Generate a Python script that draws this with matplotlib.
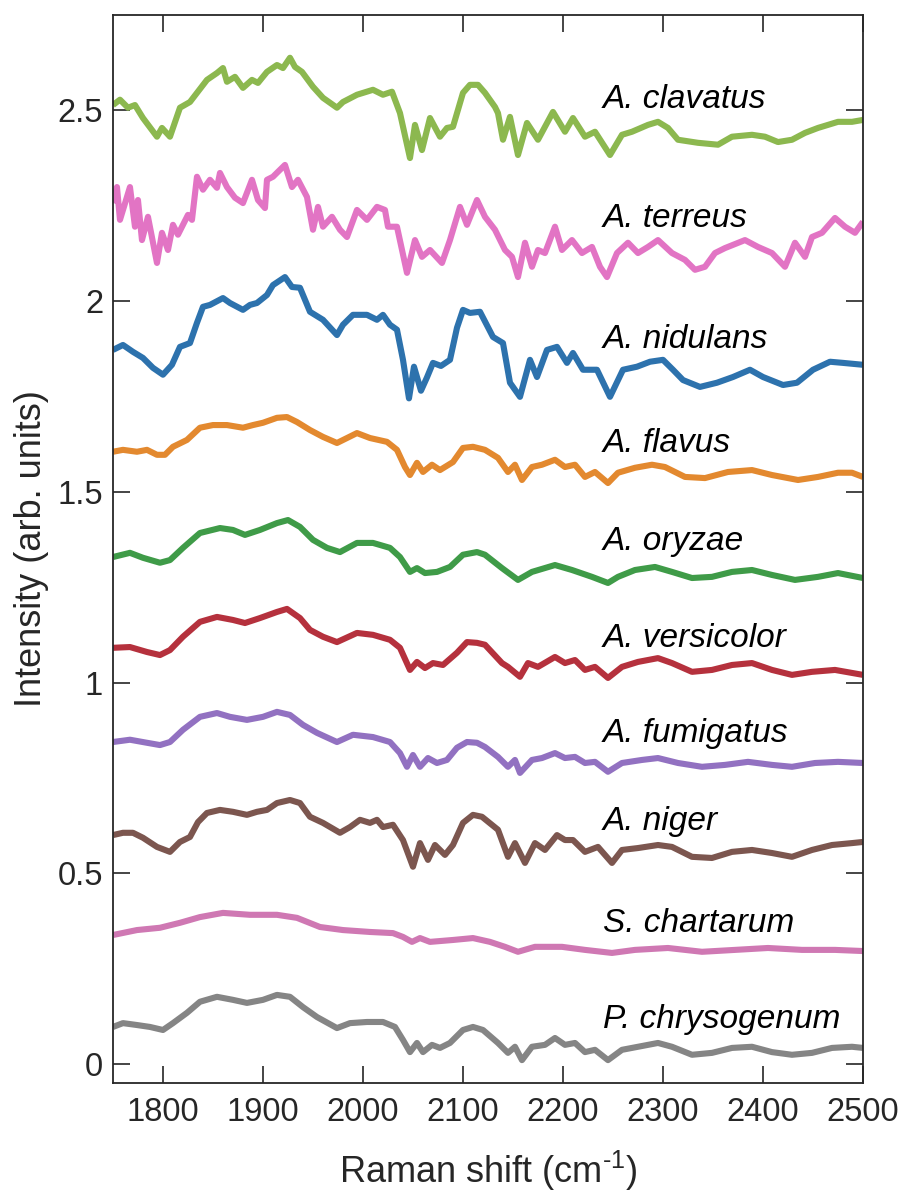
import numpy as np
import matplotlib
matplotlib.use("Agg")
import matplotlib.pyplot as plt
from matplotlib.ticker import FixedLocator, FixedFormatter

plt.rcParams['font.family'] = ['Liberation Sans', 'DejaVu Sans']
plt.rcParams['mathtext.fontset'] = 'custom'
plt.rcParams['mathtext.rm'] = 'Liberation Sans'
plt.rcParams['mathtext.default'] = 'regular'

# --- Offset Raman spectra (baseline-shifted), 1750-2500 cm^-1 ---
clavatus_x = [1750, 1757, 1765, 1772, 1780, 1794, 1799, 1807, 1817, 1827, 1844, 1854, 1860, 1864, 1872,
              1880, 1889, 1895, 1904, 1914, 1920, 1927, 1932, 1939, 1950, 1960, 1974, 1980, 1994, 2010,
              2020, 2029, 2037, 2047, 2052, 2059, 2067, 2077, 2084, 2090, 2100, 2107, 2115, 2122, 2132,
              2135, 2140, 2147, 2155, 2164, 2175, 2190, 2202, 2210, 2222, 2232, 2247, 2259, 2269, 2285,
              2295, 2305, 2315, 2335, 2355, 2369, 2389, 2402, 2415, 2429, 2442, 2455, 2475, 2489, 2500]
clavatus_y = [2.514, 2.528, 2.507, 2.514, 2.480, 2.431, 2.454, 2.431, 2.507, 2.522, 2.580, 2.598, 2.611, 2.575, 2.588,
              2.559, 2.580, 2.572, 2.601, 2.619, 2.611, 2.638, 2.614, 2.601, 2.562, 2.533, 2.507, 2.522, 2.541, 2.554,
              2.541, 2.549, 2.493, 2.375, 2.462, 2.396, 2.480, 2.431, 2.454, 2.457, 2.546, 2.567, 2.567, 2.546, 2.509,
              2.493, 2.423, 2.483, 2.383, 2.467, 2.423, 2.496, 2.444, 2.480, 2.431, 2.444, 2.383, 2.436, 2.444, 2.462,
              2.470, 2.454, 2.423, 2.415, 2.410, 2.431, 2.436, 2.431, 2.417, 2.423, 2.441, 2.454, 2.470, 2.470, 2.475]

terreus_x = [1750, 1754, 1757, 1767, 1772, 1775, 1779, 1785, 1794, 1799, 1805, 1810, 1815, 1825, 1829,
             1834, 1840, 1847, 1854, 1857, 1864, 1872, 1880, 1889, 1895, 1902, 1904, 1910, 1915, 1922,
             1929, 1935, 1944, 1950, 1955, 1960, 1969, 1977, 1984, 1994, 2004, 2014, 2022, 2025, 2034,
             2044, 2052, 2059, 2067, 2079, 2087, 2097, 2104, 2114, 2122, 2132, 2142, 2149, 2155, 2162,
             2169, 2175, 2182, 2192, 2199, 2209, 2219, 2229, 2237, 2244, 2254, 2265, 2275, 2285, 2295,
             2309, 2322, 2332, 2342, 2352, 2362, 2382, 2395, 2409, 2422, 2432, 2442, 2449, 2459, 2472,
             2482, 2492, 2500]
terreus_y = [2.257, 2.299, 2.213, 2.299, 2.195, 2.265, 2.160, 2.221, 2.100, 2.179, 2.134, 2.200, 2.174, 2.226, 2.213,
             2.326, 2.292, 2.318, 2.297, 2.336, 2.299, 2.271, 2.257, 2.318, 2.265, 2.244, 2.318, 2.326, 2.339, 2.357,
             2.299, 2.318, 2.273, 2.187, 2.247, 2.195, 2.221, 2.187, 2.168, 2.239, 2.213, 2.247, 2.239, 2.195, 2.195,
             2.074, 2.160, 2.116, 2.134, 2.100, 2.160, 2.247, 2.200, 2.265, 2.221, 2.187, 2.134, 2.116, 2.063, 2.153,
             2.090, 2.134, 2.126, 2.195, 2.134, 2.160, 2.126, 2.142, 2.090, 2.063, 2.126, 2.153, 2.126, 2.142, 2.160,
             2.126, 2.108, 2.082, 2.090, 2.126, 2.139, 2.160, 2.142, 2.126, 2.090, 2.153, 2.116, 2.168, 2.179, 2.218,
             2.195, 2.179, 2.208]

nidulans_x = [1750, 1760, 1770, 1780, 1790, 1800, 1809, 1817, 1827, 1834, 1840, 1847, 1860, 1867, 1880,
              1887, 1894, 1904, 1910, 1922, 1929, 1937, 1947, 1960, 1974, 1980, 1990, 2004, 2014, 2020,
              2027, 2034, 2040, 2046, 2051, 2058, 2064, 2070, 2078, 2087, 2094, 2100, 2107, 2117, 2130,
              2140, 2147, 2157, 2167, 2174, 2184, 2194, 2204, 2210, 2220, 2234, 2247, 2260, 2274, 2287,
              2300, 2310, 2320, 2337, 2354, 2370, 2387, 2400, 2420, 2434, 2450, 2467, 2480, 2500]
nidulans_y = [1.872, 1.885, 1.867, 1.851, 1.825, 1.807, 1.833, 1.880, 1.890, 1.943, 1.985, 1.990, 2.008, 1.995, 1.977,
              1.990, 1.995, 2.016, 2.042, 2.063, 2.037, 2.035, 1.972, 1.951, 1.911, 1.938, 1.964, 1.964, 1.951, 1.964,
              1.938, 1.925, 1.846, 1.745, 1.828, 1.765, 1.800, 1.838, 1.830, 1.846, 1.930, 1.977, 1.969, 1.972, 1.906,
              1.890, 1.786, 1.749, 1.846, 1.801, 1.872, 1.880, 1.838, 1.864, 1.820, 1.820, 1.749, 1.820, 1.828, 1.841,
              1.846, 1.820, 1.793, 1.775, 1.786, 1.801, 1.820, 1.801, 1.780, 1.786, 1.820, 1.841, 1.838, 1.833]

flavus_x = [1750, 1760, 1774, 1784, 1794, 1802, 1810, 1824, 1837, 1850, 1864, 1880, 1890, 1900, 1914,
            1924, 1934, 1947, 1960, 1974, 1984, 1994, 2007, 2024, 2034, 2042, 2047, 2054, 2060, 2069,
            2077, 2090, 2100, 2110, 2122, 2135, 2145, 2152, 2159, 2169, 2179, 2192, 2202, 2212, 2222,
            2232, 2245, 2255, 2272, 2289, 2302, 2322, 2342, 2365, 2389, 2409, 2435, 2455, 2475, 2489, 2500]
flavus_y = [1.605, 1.610, 1.605, 1.610, 1.597, 1.597, 1.618, 1.636, 1.668, 1.675, 1.675, 1.668, 1.675, 1.681, 1.694,
            1.696, 1.683, 1.662, 1.644, 1.628, 1.641, 1.654, 1.641, 1.631, 1.610, 1.565, 1.544, 1.576, 1.552, 1.571,
            1.557, 1.578, 1.615, 1.618, 1.610, 1.589, 1.552, 1.571, 1.531, 1.565, 1.571, 1.584, 1.565, 1.571, 1.539,
            1.552, 1.523, 1.550, 1.563, 1.571, 1.565, 1.539, 1.536, 1.552, 1.557, 1.544, 1.531, 1.539, 1.550, 1.550, 1.539]

oryzae_x = [1750, 1767, 1780, 1797, 1807, 1820, 1837, 1857, 1870, 1882, 1897, 1914, 1925, 1937, 1950,
            1964, 1977, 1994, 2010, 2027, 2037, 2047, 2054, 2062, 2074, 2087, 2100, 2114, 2122, 2139,
            2155, 2169, 2192, 2209, 2229, 2245, 2255, 2272, 2292, 2309, 2329, 2349, 2369, 2389, 2409,
            2432, 2455, 2475, 2500]
oryzae_y = [1.329, 1.340, 1.327, 1.314, 1.321, 1.353, 1.392, 1.405, 1.400, 1.387, 1.400, 1.418, 1.426, 1.408, 1.374,
            1.353, 1.342, 1.366, 1.366, 1.353, 1.329, 1.290, 1.300, 1.287, 1.290, 1.303, 1.335, 1.342, 1.335, 1.300,
            1.269, 1.290, 1.308, 1.295, 1.277, 1.261, 1.277, 1.295, 1.303, 1.290, 1.274, 1.277, 1.290, 1.295, 1.282,
            1.269, 1.277, 1.287, 1.274]

versicolor_x = [1750, 1767, 1784, 1797, 1807, 1820, 1837, 1854, 1870, 1882, 1897, 1914, 1924, 1937, 1947,
                1960, 1974, 1994, 2010, 2027, 2037, 2047, 2054, 2062, 2070, 2080, 2094, 2104, 2114, 2122,
                2139, 2145, 2157, 2165, 2175, 2192, 2202, 2212, 2222, 2232, 2245, 2259, 2275, 2295, 2309,
                2329, 2349, 2369, 2389, 2409, 2429, 2449, 2472, 2500]
versicolor_y = [1.091, 1.093, 1.080, 1.072, 1.085, 1.120, 1.159, 1.172, 1.164, 1.156, 1.169, 1.185, 1.193, 1.169, 1.138,
                1.120, 1.106, 1.130, 1.125, 1.112, 1.091, 1.033, 1.054, 1.038, 1.051, 1.046, 1.078, 1.106, 1.104, 1.099,
                1.051, 1.041, 1.015, 1.051, 1.041, 1.067, 1.051, 1.059, 1.033, 1.041, 1.012, 1.041, 1.054, 1.064, 1.051,
                1.028, 1.033, 1.046, 1.051, 1.033, 1.020, 1.028, 1.033, 1.020]

fumigatus_x = [1750, 1767, 1784, 1797, 1807, 1820, 1837, 1854, 1867, 1884, 1900, 1914, 1927, 1940, 1954,
               1974, 1990, 2010, 2027, 2037, 2044, 2050, 2057, 2065, 2074, 2084, 2094, 2104, 2114, 2122,
               2135, 2145, 2152, 2157, 2169, 2179, 2192, 2202, 2212, 2222, 2232, 2245, 2259, 2279, 2295,
               2315, 2339, 2362, 2385, 2409, 2429, 2452, 2475, 2500]
fumigatus_y = [0.844, 0.850, 0.842, 0.836, 0.844, 0.876, 0.910, 0.920, 0.910, 0.902, 0.910, 0.923, 0.915, 0.889, 0.868,
               0.844, 0.863, 0.857, 0.844, 0.815, 0.779, 0.810, 0.779, 0.802, 0.789, 0.797, 0.829, 0.844, 0.842, 0.831,
               0.805, 0.779, 0.797, 0.763, 0.797, 0.802, 0.815, 0.802, 0.805, 0.789, 0.792, 0.766, 0.789, 0.797, 0.802,
               0.789, 0.779, 0.784, 0.792, 0.784, 0.779, 0.789, 0.792, 0.789]

niger_x = [1750, 1760, 1770, 1780, 1794, 1807, 1817, 1827, 1835, 1844, 1857, 1870, 1884, 1894, 1904,
           1914, 1927, 1937, 1947, 1960, 1977, 1987, 1997, 2007, 2014, 2020, 2030, 2040, 2050, 2057,
           2065, 2072, 2082, 2090, 2100, 2110, 2119, 2135, 2145, 2152, 2162, 2172, 2182, 2194, 2202,
           2210, 2222, 2235, 2249, 2259, 2275, 2295, 2309, 2329, 2349, 2369, 2389, 2409, 2429, 2449,
           2469, 2489, 2500]
niger_y = [0.600, 0.606, 0.606, 0.593, 0.569, 0.556, 0.582, 0.595, 0.634, 0.658, 0.666, 0.661, 0.653, 0.661, 0.666,
           0.684, 0.692, 0.684, 0.648, 0.632, 0.606, 0.621, 0.640, 0.632, 0.640, 0.621, 0.627, 0.587, 0.517, 0.579,
           0.535, 0.574, 0.548, 0.574, 0.632, 0.653, 0.648, 0.614, 0.543, 0.579, 0.527, 0.579, 0.561, 0.600, 0.587,
           0.587, 0.556, 0.569, 0.527, 0.561, 0.566, 0.574, 0.569, 0.543, 0.540, 0.556, 0.561, 0.553, 0.543, 0.561,
           0.574, 0.579, 0.582]

chartarum_x = [1750, 1774, 1797, 1817, 1837, 1860, 1887, 1914, 1934, 1957, 1980, 2007, 2030, 2040, 2049,
               2057, 2067, 2090, 2110, 2127, 2142, 2155, 2172, 2199, 2222, 2249, 2272, 2305, 2339, 2372,
               2405, 2439, 2472, 2500]
chartarum_y = [0.338, 0.351, 0.357, 0.370, 0.385, 0.396, 0.391, 0.391, 0.383, 0.359, 0.351, 0.346, 0.343, 0.333, 0.320,
               0.330, 0.320, 0.325, 0.330, 0.320, 0.307, 0.294, 0.307, 0.307, 0.299, 0.291, 0.299, 0.304, 0.294, 0.299,
               0.304, 0.299, 0.299, 0.296]

chrysogenum_x = [1750, 1760, 1774, 1787, 1800, 1810, 1824, 1837, 1854, 1870, 1884, 1900, 1914, 1927, 1940,
                 1954, 1974, 1987, 2004, 2020, 2032, 2040, 2047, 2054, 2060, 2069, 2077, 2087, 2100, 2110,
                 2120, 2135, 2145, 2152, 2159, 2169, 2182, 2192, 2202, 2212, 2222, 2232, 2245, 2259, 2275,
                 2295, 2309, 2329, 2349, 2369, 2389, 2409, 2429, 2449, 2469, 2489, 2500]
chrysogenum_y = [0.097, 0.107, 0.102, 0.097, 0.089, 0.107, 0.134, 0.163, 0.176, 0.168, 0.160, 0.168, 0.181, 0.176, 0.149,
                 0.123, 0.094, 0.107, 0.110, 0.110, 0.097, 0.063, 0.031, 0.055, 0.031, 0.050, 0.042, 0.055, 0.089, 0.097,
                 0.089, 0.055, 0.029, 0.045, 0.010, 0.045, 0.050, 0.068, 0.050, 0.055, 0.031, 0.037, 0.010, 0.037, 0.045,
                 0.055, 0.045, 0.024, 0.029, 0.042, 0.045, 0.031, 0.024, 0.029, 0.042, 0.045, 0.042]

species = ["A. clavatus", "A. terreus", "A. nidulans", "A. flavus", "A. oryzae",
           "A. versicolor", "A. fumigatus", "A. niger", "S. chartarum", "P. chrysogenum"]
label_y = [2.507, 2.195, 1.877, 1.605, 1.348, 1.093, 0.844, 0.614, 0.346, 0.094]
colors = ["#8cb84f", "#e274c4", "#2d72ad", "#e3892f", "#3f9b48",
          "#b5313d", "#9271c1", "#7c564f", "#cf78b3", "#858585"]

spectra = [(clavatus_x, clavatus_y), (terreus_x, terreus_y), (nidulans_x, nidulans_y),
           (flavus_x, flavus_y), (oryzae_x, oryzae_y), (versicolor_x, versicolor_y),
           (fumigatus_x, fumigatus_y), (niger_x, niger_y), (chartarum_x, chartarum_y),
           (chrysogenum_x, chrysogenum_y)]

y_ticks = [0, 0.5, 1, 1.5, 2, 2.5]
y_tick_labels = ["0", "0.5", "1", "1.5", "2", "2.5"]
x_ticks = [1800, 1900, 2000, 2100, 2200, 2300, 2400, 2500]

fig = plt.figure(figsize=(9.03, 11.93), dpi=100)
ax = fig.add_axes([0.1251, 0.0922, 0.8306, 0.8952])

for (xs, ys), c in zip(spectra, colors):
    ax.plot(xs, ys, color=c, lw=4.4, solid_joinstyle='round', solid_capstyle='butt')

for name, ly in zip(species, label_y):
    ax.text(2240, ly, name, fontsize=24, style='italic', color='black',
            ha='left', va='baseline')

ax.set_xlim(1750, 2500)
ax.set_ylim(-0.05, 2.75)
ax.xaxis.set_major_locator(FixedLocator(x_ticks))
ax.yaxis.set_major_locator(FixedLocator(y_ticks))
ax.yaxis.set_major_formatter(FixedFormatter(y_tick_labels))

dark = '#262626'
for sp in ax.spines.values():
    sp.set_color(dark)
    sp.set_linewidth(1.3)
ax.tick_params(direction='in', length=12, width=1.2, color=dark, labelcolor=dark,
               labelsize=23.5, top=True, right=True)
ax.tick_params(axis='x', pad=10)
ax.tick_params(axis='y', pad=7)

ax.set_xlabel(r"Raman shift (cm$^{\text{-}1}$)", fontsize=26, color=dark, labelpad=15)
ax.set_ylabel("Intensity (arb. units)", fontsize=26, color=dark, labelpad=6)

fig.savefig("out.png", dpi=100)
